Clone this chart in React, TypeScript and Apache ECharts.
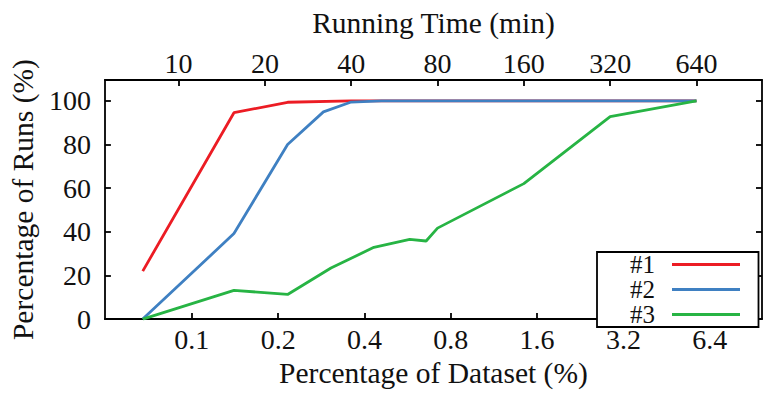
import React, { useEffect, useRef } from "react";
import * as echarts from "echarts";

// Running time (min) of each sampled point, and percentage of runs finished
const series1Minutes = [7.5, 15.6, 24, 40, 640];
const series1Runs = [22, 94.6, 99.4, 100, 100];
const series2Minutes = [7.5, 15.6, 24, 32, 40, 51, 640];
const series2Runs = [0, 39.2, 80, 95, 99.5, 100, 100];
const series3Minutes = [7.5, 15.6, 24, 34, 48, 64, 73, 80, 160, 320, 640];
const series3Runs = [0, 13.2, 11.3, 23.4, 32.9, 36.5, 35.8, 41.7, 62.1, 92.8, 100];
const seriesNames = ["#1", "#2", "#3"];

const datasetTicks = [0.1, 0.2, 0.4, 0.8, 1.6, 3.2, 6.4];
const timeTicks = [10, 20, 40, 80, 160, 320, 640];
const runTicks = [0, 20, 40, 60, 80, 100];

const FONT = "Liberation Serif";
const log2 = (v: number) => Math.log(v) / Math.LN2;
const nearest = (ticks: number[], u: number) => {
  let best = ticks[0];
  for (const t of ticks) if (Math.abs(log2(t) - u) < Math.abs(log2(best) - u)) best = t;
  return String(best);
};
const toPairs = (xs: number[], ys: number[]) => xs.map((x, i) => [log2(x), ys[i]]);

export default function App() {
  const ref = useRef<HTMLDivElement>(null);
  useEffect(() => {
    if (!ref.current) return;
    const chart = echarts.init(ref.current, null, { renderer: "svg" });
    const axisLine = { show: true, onZero: false, lineStyle: { color: "#000", width: 1.8 } };
    const tickStyle = { show: true, inside: true, length: 6, lineStyle: { color: "#000", width: 1.8 } };
    const labelText = { fontFamily: FONT, fontSize: 28, color: "#111" };
    const nameText = { fontFamily: FONT, fontSize: 29.5, color: "#111" };
    const colors = ["#ec1c24", "#3f80c2", "#27b444"];
    chart.setOption({
      animation: false,
      backgroundColor: "#fff",
      grid: { left: 102, right: 1, top: 80, bottom: 63, containLabel: false },
      legend: {
        data: seriesNames,
        left: 597,
        top: 252,
        orient: "vertical",
        align: "right",
        itemWidth: 68,
        itemHeight: 14,
        itemGap: 0,
        itemStyle: { opacity: 0 },
        lineStyle: { width: 3 },
        padding: [0, 17, 0, 33],
        borderColor: "#000",
        borderWidth: 1.8,
        backgroundColor: "#fff",
        textStyle: {
          fontFamily: FONT,
          fontSize: 25,
          color: "#111",
          lineHeight: 24,
          padding: [0, 12, 0, 0],
        },
      },
      xAxis: [
        {
          type: "value",
          position: "bottom",
          min: -4.3288,
          max: 3.2836,
          name: "Percentage of Dataset (%)",
          nameLocation: "middle",
          nameGap: 35,
          nameTextStyle: nameText,
          axisLine,
          axisTick: { ...tickStyle, customValues: datasetTicks.map(log2) },
          axisLabel: {
            ...labelText,
            margin: 6,
            customValues: datasetTicks.map(log2),
            formatter: (u: number) => nearest(datasetTicks, u),
          },
          splitLine: { show: false },
        },
        {
          type: "value",
          position: "top",
          min: 2.4684,
          max: 10.081,
          name: "Running Time (min)",
          nameLocation: "middle",
          nameGap: 42,
          nameTextStyle: nameText,
          axisLine,
          axisTick: { ...tickStyle, customValues: timeTicks.map(log2) },
          axisLabel: {
            ...labelText,
            margin: 3,
            customValues: timeTicks.map(log2),
            formatter: (u: number) => nearest(timeTicks, u),
          },
          splitLine: { show: false },
        },
      ],
      yAxis: [
        {
          type: "value",
          position: "left",
          min: 0,
          max: 109.6,
          name: "Percentage of Runs (%)",
          nameLocation: "middle",
          nameGap: 58,
          nameTextStyle: nameText,
          axisLine,
          axisTick: { ...tickStyle, customValues: runTicks },
          axisLabel: { ...labelText, margin: 14, customValues: runTicks },
          splitLine: { show: false },
        },
        {
          type: "value",
          position: "right",
          min: 0,
          max: 109.6,
          axisLine,
          axisTick: { ...tickStyle, customValues: runTicks },
          axisLabel: { show: false },
          splitLine: { show: false },
        },
      ],
      series: [
        { name: seriesNames[0], data: toPairs(series1Minutes, series1Runs) },
        { name: seriesNames[1], data: toPairs(series2Minutes, series2Runs) },
        { name: seriesNames[2], data: toPairs(series3Minutes, series3Runs) },
      ].map((s, i) => ({
        ...s,
        type: "line",
        xAxisIndex: 1,
        yAxisIndex: 0,
        showSymbol: false,
        symbol: "none",
        lineStyle: { color: colors[i], width: 2.8 },
        itemStyle: { color: colors[i] },
        z: 2,
      })),
    });
    return () => chart.dispose();
  }, []);
  return (
    <div
      ref={ref}
      style={{ position: "absolute", left: 0, top: 0, width: 763, height: 393 }}
    />
  );
}
